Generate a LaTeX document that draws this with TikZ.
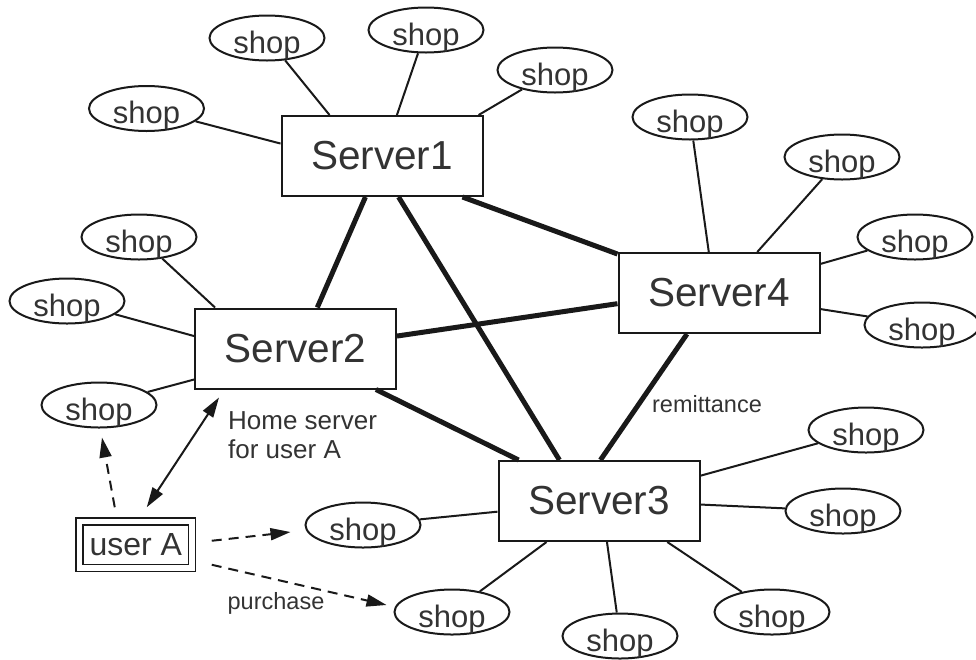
\documentclass[tikz,border=0pt]{standalone}
\usepackage{fontspec}
\setmainfont{Liberation Sans}
\usetikzlibrary{shapes.geometric,arrows.meta,calc}
\definecolor{txt}{RGB}{51,51,51}
\definecolor{ln}{RGB}{25,25,25}
\begin{document}
\begin{tikzpicture}[x=1pt,y=-1pt,
  server/.style={draw=ln, line width=2pt, minimum width=201pt, minimum height=80pt, inner sep=0pt, text=txt, font=\fontsize{40.5}{48}\selectfont},
  shop/.style={draw=ln, ellipse, line width=2pt, minimum width=115pt, minimum height=45pt, inner sep=0pt, text height=30pt, text depth=0pt, text=txt, font=\fontsize{31}{36}\selectfont},
  userbox/.style={draw=ln, double, double distance=5.5pt, line width=1.5pt, minimum width=112.5pt, minimum height=46.5pt, inner sep=0pt, text=txt, font=\fontsize{32}{38}\selectfont},
  thin/.style={draw=ln, line width=2pt},
  thick link/.style={draw=ln, line width=5pt},
  tip/.style={-{Triangle[length=20pt,width=12pt]}},
  dashline/.style={draw=ln, line width=2pt, dash pattern=on 10pt off 7pt},
  lbl/.style={text=txt, inner sep=0pt}
]
\useasboundingbox (0,0) rectangle (976,659);

% servers
\node[server] (S1) at (382,156) {Server1};
\node[server] (S2) at (295.5,348.5) {Server2};
\node[server] (S3) at (599,501) {Server3};
\node[server] (S4) at (719,293) {Server4};

% shops of Server1
\node[shop] (s1a) at (146.5,108.5) {shop};
\node[shop] (s1b) at (267,38) {shop};
\node[shop] (s1c) at (426,30) {shop};
\node[shop] (s1d) at (555,70) {shop};
% shops of Server2
\node[shop] (s2a) at (139,237) {shop};
\node[shop] (s2b) at (67,301) {shop};
\node[shop] (s2c) at (99,405) {shop};
% shops of Server4
\node[shop] (s4a) at (690,117) {shop};
\node[shop] (s4b) at (842,157) {shop};
\node[shop] (s4c) at (915,237) {shop};
\node[shop] (s4d) at (922,325) {shop};
% shops of Server3
\node[shop] (s3a) at (866,430) {shop};
\node[shop] (s3b) at (843,511) {shop};
\node[shop] (s3c) at (772,612) {shop};
\node[shop] (s3d) at (620,636) {shop};
\node[shop] (s3e) at (452,612) {shop};
\node[shop] (s3f) at (363,525) {shop};

% user
\node[userbox] (userA) at (135.75,544.75) {user A};

% thin shop links
\draw[thin] (S1.173) -- (s1a);
\draw[thin] (S1.142) -- (s1b);
\draw[thin] (S1.70) -- (s1c);
\draw[thin] (S1.23) -- (s1d);
\draw[thin] (S2.153) -- (s2a);
\draw[thin] (S2.173.5) -- (s2b);
\draw[thin] (S2.197) -- (s2c);
\draw[thin] (S4.104) -- (s4a);
\draw[thin] (S4.47) -- (s4b);
\draw[thin] (S4.16.5) -- (s4c);
\draw[thin] (S4.351) -- (s4d);
\draw[thin] (S3.14) -- (s3a);
\draw[thin] (S3.358) -- (s3b);
\draw[thin] (S3.329.5) -- (s3c);
\draw[thin] (S3.281) -- (s3d);
\draw[thin] (S3.218) -- (s3e);
\draw[thin] (S3.186) -- (s3f);

% server backbone
\draw[thick link] (S1.248) -- (S2.62);
\draw[thick link] (S1.292) -- (S3.134);
\draw[thick link] (S1.333) -- (S4.159.4);
\draw[thick link] (S2.7.7) -- (S4.186.8);
\draw[thick link] (S2.333.6) -- (S3.153.7);
\draw[thick link] (S4.232.2) -- (S3.88.6);

% user arrows
\draw[dashline, tip] ([xshift=-21pt,yshift=13.5pt]userA.north) -- ([xshift=3pt,yshift=-9pt]s2c.south);
\draw[draw=ln, line width=2pt, {Triangle[length=20pt,width=12pt]}-{Triangle[length=20pt,width=12pt]}] ([xshift=11pt,yshift=13.5pt]userA.north) -- ([xshift=25pt,yshift=-8pt]S2.south west);
\draw[dashline, tip] ([xshift=19pt,yshift=4pt]userA.east) -- ([xshift=-14pt,yshift=-7pt]s3f.west);
\draw[dashline, tip] ([xshift=19pt,yshift=-20pt]userA.east) -- ([xshift=-7pt,yshift=7pt]s3e.west);

% labels
\node[lbl, anchor=west, align=left, font=\fontsize{26}{29}\selectfont] (home) at (228,435) {Home server\\for user A};
\node[lbl, font=\fontsize{23.5}{28}\selectfont] (purchase) at (276,603) {purchase};
\node[lbl, font=\fontsize{23.5}{28}\selectfont] (remit) at (707,404) {remittance};
\end{tikzpicture}
\end{document}
